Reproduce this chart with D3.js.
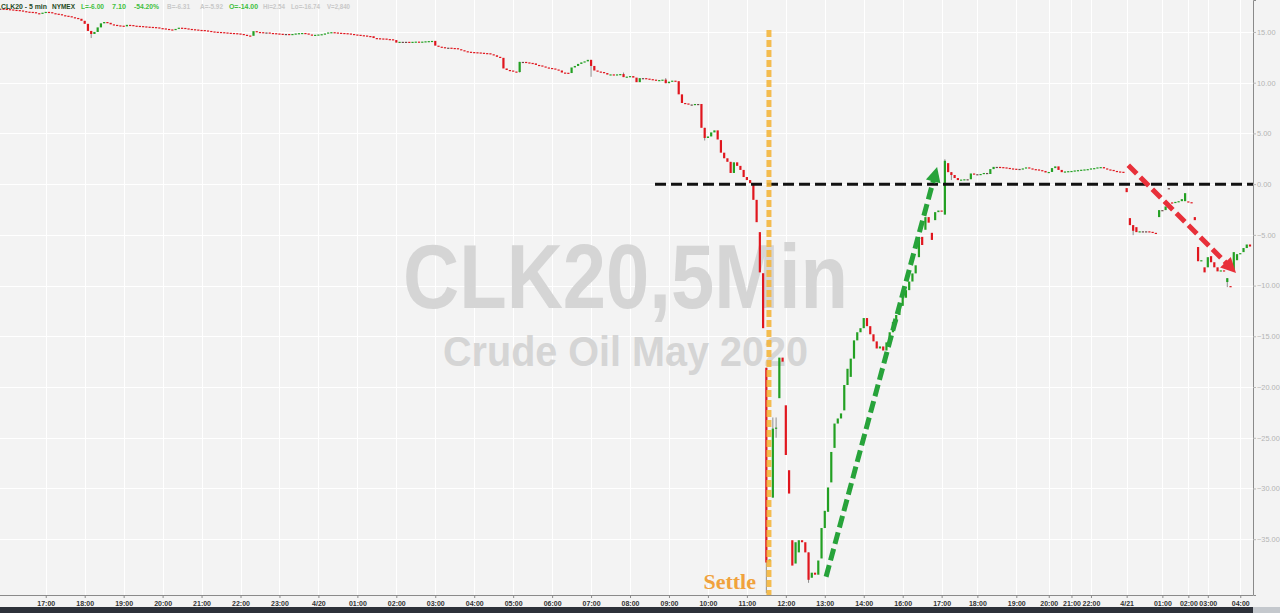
<!DOCTYPE html>
<html>
<head>
<meta charset="utf-8">
<script src="https://cdn.jsdelivr.net/npm/d3@7"></script>
<style>
  html, body { margin: 0; padding: 0; background: #f3f3f3; overflow: hidden; }
  svg { display: block; }
</style>
</head>
<body>
<div id="chart"></div>
<script>
// 5 min closes, CLK20, one per bar (bar index = position on the axis)
var closes = [
  17.30, 17.28, 17.25, 17.22, 17.18, 17.16, 17.12, 17.05, 17.00, 16.98,
  16.95, 16.85, 16.80, 16.90, 16.98, 16.95, 16.85, 16.80, 16.75, 16.65,
  16.60, 16.55, 16.45, 16.38, 16.30, 16.10, 15.80, 15.10, 14.80, 15.00,
  15.45, 15.85, 15.98, 15.90, 15.75, 15.70, 15.65, 15.62, 15.55, 15.70,
  15.68, 15.62, 15.60, 15.58, 15.55, 15.52, 15.50, 15.48, 15.45, 15.38,
  15.35, 15.30, 15.25, 15.20, 15.30, 15.42, 15.40, 15.35, 15.30, 15.27,
  15.24, 15.20, 15.19, 15.15, 15.10, 15.05, 15.02, 15.00, 14.98, 14.95,
  14.92, 14.90, 14.88, 14.85, 14.80, 14.72, 14.65, 14.62, 15.08, 15.00,
  14.98, 14.95, 14.95, 14.90, 14.88, 14.85, 14.82, 14.80, 14.80, 14.78,
  14.80, 14.85, 14.88, 14.90, 14.85, 14.75, 14.70, 14.72, 14.75, 14.78,
  14.85, 14.95, 14.98, 14.95, 14.92, 14.90, 14.88, 14.85, 14.80, 14.75,
  14.72, 14.68, 14.65, 14.60, 14.58, 14.40, 14.38, 14.36, 14.35, 14.30,
  14.28, 14.20, 13.95, 14.03, 14.03, 14.03, 14.02, 14.03, 14.05, 14.04,
  14.05, 14.08, 14.10, 14.12, 13.65, 13.55, 13.50, 13.45, 13.45, 13.42,
  13.40, 13.30, 13.20, 13.10, 13.05, 13.02, 13.00, 12.98, 12.95, 12.92,
  12.90, 12.80, 12.70, 12.55, 12.45, 11.40, 11.25, 11.20, 11.10, 11.05,
  12.05, 12.05, 12.00, 11.95, 11.90, 11.75, 11.70, 11.60, 11.50, 11.45,
  11.40, 11.30, 11.20, 11.00, 10.98, 10.95, 11.50, 11.65, 11.85, 12.00,
  12.10, 12.25, 11.65, 11.20, 11.10, 11.05, 10.95, 10.80, 10.82, 10.80,
  10.82, 10.85, 10.55, 10.60, 10.65, 10.50, 10.05, 10.45, 10.45, 10.40,
  10.35, 10.30, 10.25, 10.26, 10.30, 9.95, 10.10, 10.20, 10.15, 8.85,
  8.00, 7.95, 7.85, 7.85, 7.90, 7.90, 5.55, 4.55, 4.70, 5.10,
  5.30, 4.40, 3.10, 2.55, 2.20, 1.10, 2.15, 1.80, 1.40, 0.70,
  0.40, 0.10, -1.55, -3.75, -8.70, -14.20, -37.30, -37.00, -24.10, -24.00,
  -17.10, -17.50, -26.70, -30.50, -37.60, -35.30, -35.10, -35.30, -36.30, -39.00,
  -38.30, -38.50, -37.10, -33.90, -32.20, -29.90, -26.40, -23.60, -23.10, -22.60,
  -19.80, -18.20, -17.20, -15.40, -14.60, -14.20, -13.20, -14.00, -14.80, -15.50,
  -16.20, -16.00, -16.40, -15.60, -14.60, -13.60, -12.90, -12.00, -11.20, -10.45,
  -9.60, -8.80, -8.00, -5.20, -6.00, -3.25, -3.80, -5.50, -2.76, -2.60,
  -2.70, 2.30, 1.18, 0.90, 0.60, 0.40, 0.45, 0.48, 0.48, 1.05,
  0.98, 0.98, 1.00, 1.10, 1.10, 1.48, 1.70, 1.70, 1.68, 1.65,
  1.60, 1.55, 1.52, 1.50, 1.50, 1.55, 1.65, 1.55, 1.48, 1.45,
  1.38, 1.30, 1.15, 1.20, 1.58, 1.75, 1.40, 1.18, 1.25, 1.28,
  1.30, 1.35, 1.38, 1.42, 1.45, 1.48, 1.55, 1.58, 1.65, 1.68,
  1.55, 1.45, 1.40, 1.30, 1.25, 1.22, 1.20, -0.79, -4.04, -4.60,
  -4.73, -4.65, -4.65, -4.65, -4.70, -4.80, -4.85, -2.56, -2.56, -2.20,
  -0.40, -1.85, -1.75, -1.68, -1.48, -0.89, -1.78, -1.87, -3.55, -7.60,
  -7.50, -8.70, -7.20, -7.70, -8.20, -8.60, -8.50, -8.60, -9.27, -10.10,
  -6.70, -6.90, -6.80, -6.30, -5.95, -6.15
]

// opens that do not follow the previous close (gaps)
var gapOpens = {
  222: 4.34, 234: -4.73, 235: -8.78, 236: -18.10, 237: -37.20, 238: -30.90,
  240: -21.10, 242: -21.80, 243: -28.20, 244: -35.10, 245: -37.40, 246: -36.30,
  250: -38.80, 253: -36.90, 255: -32.30, 256: -29.40, 257: -26.00, 260: -22.30,
  262: -19.00, 283: -7.20, 285: -4.50, 287: -4.80, 288: -3.55, 291: -3.00,
  292: 2.07, 305: 1.00, 347: -0.39, 348: -3.35, 350: -4.24, 357: -3.25,
  360: -0.40, 361: -1.80, 365: -1.68, 366: -1.70, 368: -3.25, 369: -6.20,
  371: -8.20, 372: -8.20, 373: -7.10, 378: -9.65, 379: -10.05, 380: -8.50,
  381: -7.50, 383: -6.70
}

// wick extremes beyond the body
var highs = { 192: 11.00, 205: 10.45, 238: -23.00, 239: -23.00, 291: 2.45 }
var lows = {
  28: 14.40, 160: 11.00, 182: 10.58, 217: 4.30, 236: -40.32, 239: -25.00,
  249: -39.30, 293: 0.40, 349: -5.03, 378: -10.15
}

var yTicks = [15, 10, 5, 0, -5, -10, -15, -20, -25, -30, -35]
var xTickBars = [14, 26, 38, 50, 62, 74, 86, 98, 110, 122, 134, 146, 158, 170, 182, 194,
  206, 218, 230, 242, 254, 266, 278, 290, 301, 313, 323, 330, 336, 347, 358, 366, 372, 382]
var xTickLabels = ['17:00', '18:00', '19:00', '20:00', '21:00', '22:00', '23:00', '4/20',
  '01:00', '02:00', '03:00', '04:00', '05:00', '06:00', '07:00', '08:00', '09:00', '10:00',
  '11:00', '12:00', '13:00', '14:00', '16:00', '17:00', '18:00', '19:00', '20:00', '21:00',
  '22:00', '4/21', '01:00', '02:00', '03:00', '04:00']

var headerTexts = ['CLK20 - 5 min', 'NYMEX', 'L=-6.00', '7.10', '-54.20%', 'B=-6.31',
  'A=-5.92', 'O=-14.00', 'Hi=2.54', 'Lo=-16.74', 'V=2,840']

// annotations (bar index / price)
var settleBar = 236.8
var zeroLineStart = 201.7
var greenArrow = [[254.4, -38.7], [288.6, 1.7]]
var redArrow = [[347.5, 1.87], [380.7, -8.75]]

var width = 1280
var height = 613
var plotRight = 1253
var plotBottom = 595

var svg = d3.select('#chart').append('svg')
  .attr('width', width)
  .attr('height', height)

svg.append('rect')
  .attr('width', width).attr('height', height)
  .attr('fill', '#f3f3f3')

var x = d3.scaleLinear().domain([0, 386]).range([0.3, 0.3 + 386 * 3.246])
var y = d3.scaleLinear().domain([-40.5, 18.15]).range([plotBottom, 0])

// grid
svg.append('g').selectAll('line')
  .data(yTicks).enter().append('line')
  .attr('x1', 0).attr('x2', plotRight)
  .attr('y1', function (d) { return Math.round(y(d)) + 0.5 })
  .attr('y2', function (d) { return Math.round(y(d)) + 0.5 })
  .attr('stroke', '#ffffff').attr('stroke-width', 1)
svg.append('g').selectAll('line')
  .data(xTickBars).enter().append('line')
  .attr('y1', 0).attr('y2', plotBottom)
  .attr('x1', function (d) { return Math.round(x(d)) + 0.5 })
  .attr('x2', function (d) { return Math.round(x(d)) + 0.5 })
  .attr('stroke', '#ffffff').attr('stroke-width', 1)

// watermark
svg.append('text')
  .attr('x', 625.5).attr('y', 308)
  .attr('text-anchor', 'middle')
  .attr('font-family', 'Liberation Sans, Arial, sans-serif')
  .attr('font-weight', 'bold')
  .attr('font-size', 90)
  .attr('textLength', 445).attr('lengthAdjust', 'spacingAndGlyphs')
  .attr('fill', '#d5d5d5')
  .text('CLK20,5Min')
svg.append('text')
  .attr('x', 625.5).attr('y', 366)
  .attr('text-anchor', 'middle')
  .attr('font-family', 'Liberation Sans, Arial, sans-serif')
  .attr('font-weight', 'bold')
  .attr('font-size', 43)
  .attr('textLength', 365).attr('lengthAdjust', 'spacingAndGlyphs')
  .attr('fill', '#d5d5d5')
  .text('Crude Oil May 2020')

// candles
var bars = closes.map(function (c, i) {
  var o = gapOpens[i] !== undefined ? gapOpens[i] : (i > 0 ? closes[i - 1] : c)
  var h = Math.max(o, c, highs[i] !== undefined ? highs[i] : -Infinity)
  var l = Math.min(o, c, lows[i] !== undefined ? lows[i] : Infinity)
  return {i: i, o: o, h: h, l: l, c: c}
})

var candles = svg.append('g').selectAll('g')
  .data(bars).enter().append('g')

candles.filter(function (d) { return d.h > Math.max(d.o, d.c) || d.l < Math.min(d.o, d.c) })
  .append('line')
  .attr('x1', function (d) { return x(d.i) }).attr('x2', function (d) { return x(d.i) })
  .attr('y1', function (d) { return y(d.h) }).attr('y2', function (d) { return y(d.l) })
  .attr('stroke', '#8e8e8e').attr('stroke-width', 1)

candles.append('rect')
  .attr('x', function (d) { return x(d.i) - 1.1 })
  .attr('width', 2.2)
  .attr('y', function (d) { return y(Math.max(d.o, d.c)) })
  .attr('height', function (d) { return Math.max(1.2, Math.abs(y(d.o) - y(d.c))) })
  .attr('fill', function (d) {
    if (d.c > d.o) return '#23a023'
    if (d.c < d.o) return '#e0161e'
    return '#6a4a4a'
  })

// axes
var yAxis = d3.axisRight(y).tickValues(yTicks).tickSize(3).tickPadding(1)
  .tickFormat(d3.format('.2f'))
var yAxisG = svg.append('g')
  .attr('transform', 'translate(' + plotRight + ',0)')
  .call(yAxis)
yAxisG.select('.domain').attr('stroke', '#8a8a8a')
yAxisG.selectAll('.tick line').attr('stroke', '#b8b8b8')
yAxisG.selectAll('text')
  .attr('fill', '#b3b3b3')
  .attr('font-family', 'Liberation Sans, Arial, sans-serif')
  .attr('font-size', 7.4)

var xAxis = d3.axisBottom(x).tickValues(xTickBars).tickSize(3).tickPadding(3)
  .tickFormat(function (d, i) { return xTickLabels[i] })
var xAxisG = svg.append('g')
  .attr('transform', 'translate(0,' + plotBottom + ')')
  .call(xAxis)
xAxisG.select('.domain').attr('stroke', '#8a8a8a').attr('d', 'M0,0.5H' + plotRight)
xAxisG.selectAll('.tick line').attr('stroke', '#8a8a8a')
xAxisG.selectAll('text')
  .attr('fill', '#333')
  .attr('font-family', 'Liberation Sans, Arial, sans-serif')
  .attr('font-weight', 'bold')
  .attr('font-size', 7)

// bottom strip
svg.append('rect')
  .attr('x', 0).attr('y', 607).attr('width', plotRight).attr('height', 6)
  .attr('fill', '#2d3139')
svg.append('rect')
  .attr('x', plotRight).attr('y', 607).attr('width', width - plotRight).attr('height', 6)
  .attr('fill', '#c4c8cd')

// zero line
svg.append('line')
  .attr('x1', x(zeroLineStart)).attr('x2', plotRight)
  .attr('y1', y(0)).attr('y2', y(0))
  .attr('stroke', '#111').attr('stroke-width', 3)
  .attr('stroke-dasharray', '11,5')

// settle line
svg.append('line')
  .attr('x1', x(settleBar)).attr('x2', x(settleBar))
  .attr('y1', y(15.2)).attr('y2', plotBottom)
  .attr('stroke', '#f5b73e').attr('stroke-width', 5)
  .attr('stroke-dasharray', '7,3')
  .attr('opacity', 0.9)

svg.append('text')
  .attr('x', x(232.8)).attr('y', plotBottom - 6)
  .attr('text-anchor', 'end')
  .attr('font-family', 'Liberation Serif, Times New Roman, serif')
  .attr('font-weight', 'bold')
  .attr('font-size', 22)
  .attr('fill', '#f0a23c')
  .text('Settle')

function arrow (pts, color) {
  var x0 = x(pts[0][0]), y0 = y(pts[0][1])
  var x1 = x(pts[1][0]), y1 = y(pts[1][1])
  var dx = x1 - x0, dy = y1 - y0
  var len = Math.sqrt(dx * dx + dy * dy)
  var ux = dx / len, uy = dy / len
  var headLen = 15, headW = 7.5
  var bx = x1 - ux * headLen, by = y1 - uy * headLen
  svg.append('line')
    .attr('x1', x0).attr('y1', y0)
    .attr('x2', bx + ux * 2).attr('y2', by + uy * 2)
    .attr('stroke', color).attr('stroke-width', 5)
    .attr('stroke-dasharray', '12,5')
  svg.append('path')
    .attr('d', 'M' + x1 + ',' + y1 +
      'L' + (bx - uy * headW) + ',' + (by + ux * headW) +
      'L' + (bx + uy * headW) + ',' + (by - ux * headW) + 'Z')
    .attr('fill', color)
}
arrow(greenArrow, '#27a33a')
arrow(redArrow, '#e8303a')

// header
var headerX = [1, 52, 81, 112, 134, 167, 200, 229, 263, 291, 327]
var headerW = [46, 23, 23, 14, 25, 23, 23, 29, 22, 29, 23]
var headerColor = ['#1f4a1f', '#1f4a1f', '#3fbf3f', '#3fbf3f', '#3fbf3f', '#c8c8c8',
  '#c8c8c8', '#3fbf3f', '#c8c8c8', '#c8c8c8', '#c8c8c8']
svg.append('g').selectAll('text')
  .data(headerTexts).enter().append('text')
  .attr('x', function (d, i) { return headerX[i] })
  .attr('y', 8.5)
  .attr('font-family', 'Liberation Sans, Arial, sans-serif')
  .attr('font-weight', 'bold')
  .attr('font-size', 7.6)
  .attr('textLength', function (d, i) { return headerW[i] })
  .attr('lengthAdjust', 'spacingAndGlyphs')
  .attr('fill', function (d, i) { return headerColor[i] })
  .text(function (d) { return d })
</script>
</body>
</html>
